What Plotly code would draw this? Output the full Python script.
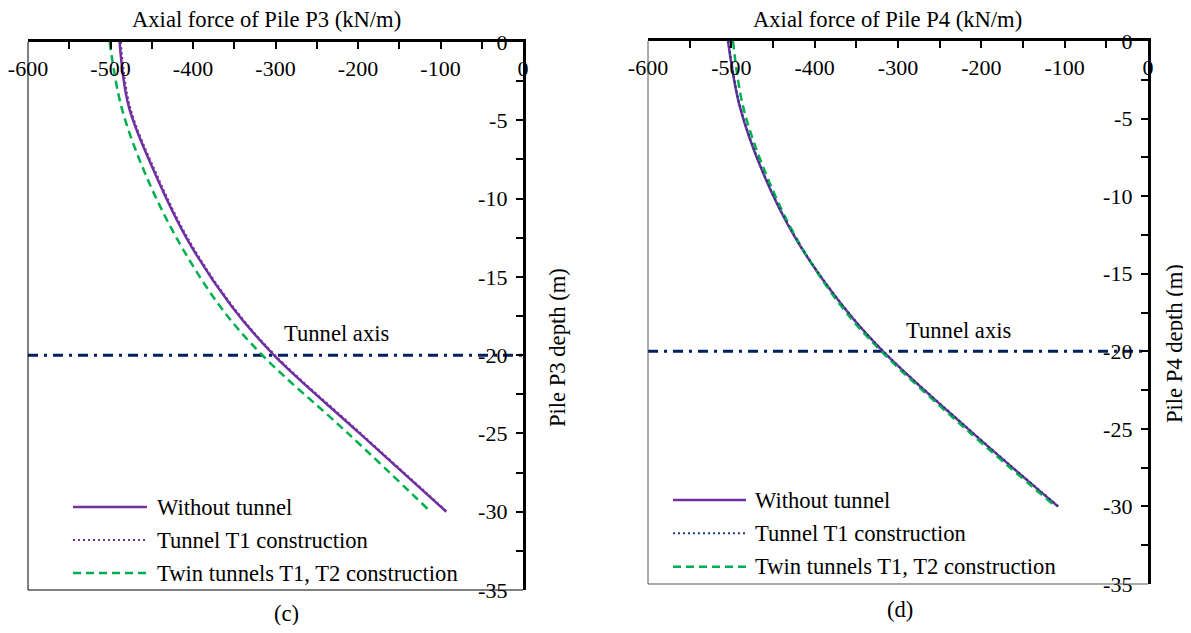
import plotly.graph_objects as go

# the page adds an 8px body margin, so the figure is drawn smaller and
# every reference pixel position is shifted by that margin
PAGE_MARGIN = 8
W, H = 1191 - PAGE_MARGIN, 633 - 2 * PAGE_MARGIN
FONT = "Liberation Serif"

# ---------------- data ----------------
X_RANGE = [-600, 0]
Y_RANGE = [-35, 0]
X_TICKS = [-600, -500, -400, -300, -200, -100, 0]
X_TICKTEXT = ["-600", "-500", "-400", "-300", "-200", "-100", "0"]
Y_TICKS = [0, -5, -10, -15, -20, -25, -30, -35]
Y_TICKTEXT = ["0", "-5", "-10", "-15", "-20", "-25", "-30", "-35"]
TUNNEL_DEPTH = -20
TUNNEL_LABEL = "Tunnel axis"

SERIES_NAMES = ["Without tunnel", "Tunnel T1 construction", "Twin tunnels T1, T2 construction"]

P3_DEPTH = [0, -4.1, -8.4, -12.6, -16.9, -20, -25, -30]
P3_WITHOUT = [-489, -478, -446, -407, -353, -302, -198, -93]
P3_T1 = [-487.5, -476.5, -444.5, -405.5, -351.5, -300.5, -196.5, -92]
P3_TWIN = [-501, -487, -458, -419, -367, -316, -212, -112]

P4_DEPTH = [0, -4.2, -8.5, -12.8, -17.1, -20, -25, -30]
P4_WITHOUT = [-504, -490, -462, -422, -366, -318, -216, -108]
P4_T1 = [-503.5, -489.5, -461.5, -421.5, -365.5, -317.5, -215.5, -107.5]
P4_TWIN = [-498, -486, -459, -421, -368, -320, -219, -111]

PANELS = [
    dict(title="Axial force of Pile P3 (kN/m)", ylabel="Pile P3 depth (m)", tag="(c)",
         depth=P3_DEPTH, series=[P3_WITHOUT, P3_T1, P3_TWIN]),
    dict(title="Axial force of Pile P4 (kN/m)", ylabel="Pile P4 depth (m)", tag="(d)",
         depth=P4_DEPTH, series=[P4_WITHOUT, P4_T1, P4_TWIN]),
]

# ---------------- styling ----------------
PURPLE = "#7030A0"
GREEN = "#00B050"
NAVY = "#002060"
STYLES = [
    [dict(color=PURPLE, width=2.5, dash="solid"),
     dict(color=PURPLE, width=2, dash="2px,3px"),
     dict(color=GREEN, width=2.5, dash="8px,5px")],
    [dict(color=PURPLE, width=2.5, dash="solid"),
     dict(color="#1F3C78", width=2, dash="2px,3px"),
     dict(color=GREEN, width=2.5, dash="8px,5px")],
]
# reference pixel layout of each panel: left, right, top, bottom
BOX = [(28, 523, 42, 590), (648, 1148, 41, 584)]
TITLE_POS = [(266, 20), (887, 20)]
YLAB_POS = [(557, 348), (1175, 344)]
TAG_POS = [(286, 613), (900, 609)]
TUNNEL_LABEL_POS = [(-225.5, -18.6), (-227.6, -18.65)]
LEG = [dict(x0=73, x1=147, xt=155, rows=[507, 540, 573]),
       dict(x0=673, x1=746, xt=753, rows=[500, 533.3, 566.7])]
BOX_LINE_COLOR = ["black", "#555555"]
TEXT_SIZE = 22.6
TICK_SIZE = 22


def px(x):
    return (x - PAGE_MARGIN) / W


def py(y):
    return 1 - (y - PAGE_MARGIN) / H


fig = go.Figure()
annotations = []
shapes = []
tickfont = dict(family=FONT, size=TICK_SIZE, color="black")
textfont = dict(family=FONT, size=TEXT_SIZE, color="black")

for i, p in enumerate(PANELS):
    xa = "x" if i == 0 else "x2"
    ya = "y" if i == 0 else "y2"
    l, r, t, b = BOX[i]
    # tunnel axis line
    fig.add_trace(go.Scatter(x=X_RANGE, y=[TUNNEL_DEPTH, TUNNEL_DEPTH], mode="lines",
                             line=dict(color=NAVY, width=3, dash="10px,6px,3px,6px"),
                             showlegend=False, hoverinfo="skip", xaxis=xa, yaxis=ya))
    order = [0, 2, 1]
    for k in order:
        fig.add_trace(go.Scatter(x=p["series"][k], y=p["depth"], mode="lines",
                                 name=SERIES_NAMES[k],
                                 line=dict(shape="spline", smoothing=1.0, **STYLES[i][k]),
                                 showlegend=False, xaxis=xa, yaxis=ya))
    axis_x = dict(domain=[px(l), px(r)], anchor=ya, range=X_RANGE, side="top",
                  automargin=False,
                  showline=True, linewidth=3, linecolor="black",
                  ticks="inside", ticklen=7, tickwidth=2, tickcolor="black",
                  tickmode="array", tickvals=X_TICKS, ticktext=X_TICKTEXT,
                  ticklabelposition="inside", ticklabeloverflow="allow", ticklabelstandoff=13,
                  tickfont=tickfont, showgrid=False, zeroline=False, fixedrange=True,
                  minor=dict(dtick=50, tick0=0, ticks="inside", ticklen=7, tickwidth=2,
                             tickcolor="black", showgrid=False))
    axis_y = dict(domain=[py(b), py(t)], anchor=xa, range=Y_RANGE, side="right",
                  automargin=False,
                  showline=True, linewidth=3, linecolor="black",
                  ticks="inside", ticklen=7, tickwidth=2, tickcolor="black",
                  tickmode="array", tickvals=Y_TICKS, ticktext=Y_TICKTEXT,
                  ticklabelposition="inside", ticklabeloverflow="allow", ticklabelstandoff=10,
                  tickfont=tickfont, showgrid=False, zeroline=False, fixedrange=True,
                  minor=dict(dtick=2.5, tick0=0, ticks="inside", ticklen=7, tickwidth=2,
                             tickcolor="black", showgrid=False))
    if i == 0:
        fig.update_layout(xaxis=axis_x, yaxis=axis_y)
    else:
        fig.update_layout(xaxis2=axis_x, yaxis2=axis_y)

    # thin left & bottom frame lines
    dx = xa + " domain"
    dy = ya + " domain"
    shapes.append(dict(type="line", xref=dx, yref=dy, x0=0, x1=0, y0=0, y1=1,
                       line=dict(color=BOX_LINE_COLOR[i], width=1)))
    shapes.append(dict(type="line", xref=dx, yref=dy, x0=0, x1=1, y0=0, y1=0,
                       line=dict(color=BOX_LINE_COLOR[i], width=1)))

    # texts
    annotations.append(dict(text=p["title"], x=px(TITLE_POS[i][0]), y=py(TITLE_POS[i][1]),
                            xref="paper", yref="paper", showarrow=False,
                            xanchor="center", yanchor="middle", font=textfont))
    annotations.append(dict(text=p["ylabel"], x=px(YLAB_POS[i][0]), y=py(YLAB_POS[i][1]),
                            xref="paper", yref="paper", showarrow=False, textangle=-90,
                            xanchor="center", yanchor="middle", font=textfont))
    annotations.append(dict(text=p["tag"], x=px(TAG_POS[i][0]), y=py(TAG_POS[i][1]),
                            xref="paper", yref="paper", showarrow=False,
                            xanchor="center", yanchor="middle", font=textfont))
    annotations.append(dict(text=TUNNEL_LABEL, x=TUNNEL_LABEL_POS[i][0], y=TUNNEL_LABEL_POS[i][1],
                            xref=xa, yref=ya, showarrow=False,
                            xanchor="center", yanchor="middle", font=textfont))

    # legend (drawn from the series names and styles)
    lg = LEG[i]
    for k, name in enumerate(SERIES_NAMES):
        st = STYLES[i][k]
        yy = py(lg["rows"][k])
        shapes.append(dict(type="line", xref="paper", yref="paper",
                           x0=px(lg["x0"]), x1=px(lg["x1"]), y0=yy, y1=yy,
                           line=dict(color=st["color"], width=st["width"], dash=st["dash"])))
        annotations.append(dict(text=name, x=px(lg["xt"]), y=yy, xref="paper", yref="paper",
                                showarrow=False, xanchor="left", yanchor="middle",
                                font=textfont))

fig.update_layout(width=W, height=H, margin=dict(l=0, r=0, t=0, b=0, autoexpand=False),
                  paper_bgcolor="white", plot_bgcolor="white", showlegend=False,
                  annotations=annotations, shapes=shapes)

fig.write_html("out.html")
